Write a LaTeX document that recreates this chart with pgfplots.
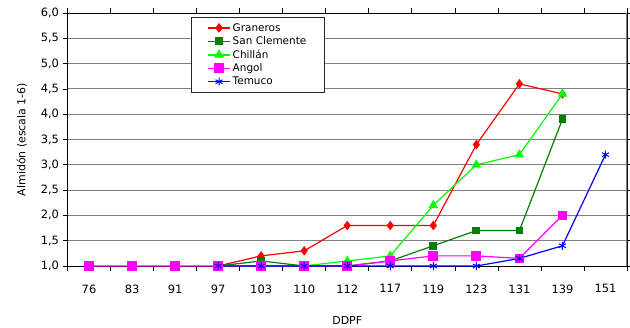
\documentclass[border=0pt]{standalone}
\usepackage{pgfplots}
\pgfplotsset{compat=1.18}
\usepackage{fontspec}
\setmainfont{DejaVu Sans}

\definecolor{cGran}{RGB}{255,0,0}
\definecolor{cSanC}{RGB}{0,128,0}
\definecolor{cChil}{RGB}{0,255,0}
\definecolor{cAngo}{RGB}{255,0,255}
\definecolor{cTemu}{RGB}{0,0,255}
\definecolor{gridgray}{RGB}{128,128,128}

\begin{document}
\begin{tikzpicture}
% page frame around the plot area and its labels
\path[use as bounding box] (-67.5bp,-62bp) rectangle (562.5bp,266bp);
\begin{axis}[
  at={(0,0)}, anchor=south west,
  scale only axis,
  width=559.5bp, height=253bp,
  xmin=-0.5, xmax=12.5,
  ymin=1, ymax=6,
  xtick={0,...,12},
  xticklabels={76,83,91,97,103,110,112,117,119,123,131,139,151},
  minor xtick={-0.5,0.5,...,12.5},
  major x tick style={draw=none},
  minor x tick style={black},
  ytick={1,1.5,...,6},
  tick align=outside,
  major tick length=5bp,
  minor tick length=5bp,
  ymajorgrids,
  major grid style={gridgray, line width=0.9bp},
  axis line style={black, line width=0.9bp},
  tick style={black, line width=0.7bp},
  yticklabel style={/pgf/number format/.cd, use comma, fixed, fixed zerofill, precision=1, assume math mode=true},
  ticklabel style={font=\fontsize{11.5}{13}\selectfont},
  xticklabel style={yshift=-10bp},
  xlabel={DDPF},
  ylabel={Almidón (escala 1-6)},
  label style={font=\fontsize{11}{13}\selectfont},
  xlabel style={yshift=-16bp},
  ylabel style={yshift=7bp},
  legend style={
    at={(0.221,0.984)}, anchor=north west,
    draw=black!85, fill=white,
    font=\fontsize{10.5}{13.3}\selectfont,
    row sep=0bp, inner xsep=9bp, inner ysep=4bp,
    text width=80bp,
  },
  legend cell align=left,
  legend image code/.code={%
    \path (0bp,0bp);
    \draw[mark repeat=2, mark phase=2]
      plot coordinates {(7bp,0bp) (18bp,0bp) (29bp,0bp)};},
  legend image post style={line width=1.4bp},
  every axis plot/.append style={line width=1.2bp},
]
\addplot[cGran, mark=diamond*, mark size=3.8bp] coordinates {
  (3,1.0) (4,1.2) (5,1.3) (6,1.8) (7,1.8) (8,1.8) (9,3.4) (10,4.6) (11,4.4)};
\addlegendentry{Graneros}
\addplot[cSanC, mark=square*, mark size=3.3bp] coordinates {
  (3,1.0) (4,1.1) (5,1.0) (6,1.0) (7,1.1) (8,1.4) (9,1.7) (10,1.7) (11,3.9)};
\addlegendentry{San Clemente}
\addplot[cChil, mark=triangle*, mark size=4.3bp] coordinates {
  (3,1.0) (4,1.0) (5,1.0) (6,1.1) (7,1.2) (8,2.2) (9,3.0) (10,3.2) (11,4.4)};
\addlegendentry{Chillán}
\addplot[cAngo, mark=square*, mark size=4.3bp] coordinates {
  (0,1.0) (1,1.0) (2,1.0) (3,1.0) (4,1.0) (5,1.0) (6,1.0) (7,1.1) (8,1.2) (9,1.2) (10,1.15) (11,2.0)};
\addlegendentry{Angol}
\addplot[cTemu, mark=asterisk, mark size=4bp, mark options={line width=1bp}] coordinates {
  (3,1.0) (4,1.0) (5,1.0) (6,1.0) (7,1.0) (8,1.0) (9,1.0) (10,1.15) (11,1.4) (12,3.2)};
\addlegendentry{Temuco}
% right edge of the plot area in gray
\draw[gridgray, line width=1.2bp] (rel axis cs:1,0) -- (rel axis cs:1,1);
\end{axis}
\end{tikzpicture}
\end{document}
